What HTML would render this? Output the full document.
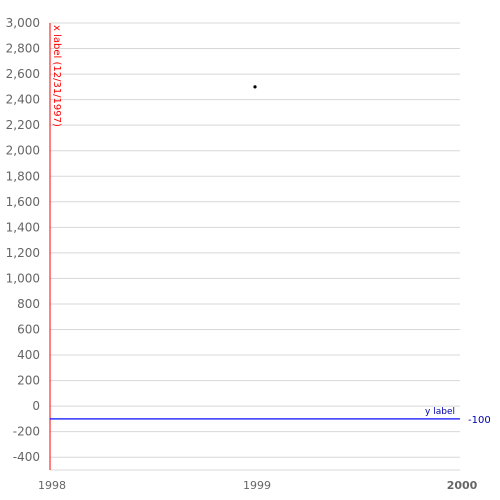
<!DOCTYPE html>
<html><head><meta charset="utf-8"><style>body{margin:0;background:#fff}svg{display:block;font-family:"DejaVu Sans","Liberation Sans",sans-serif}</style></head>
<body>
<svg id="c" width="500" height="500"></svg>
<script>
const yTicks=[-400,-200,0,200,400,600,800,1000,1200,1400,1600,1800,2000,2200,2400,2600,2800,3000];
const xTicks=[1998,1999,2000];
const pointX=[1999];
const pointY=[2500];
const xLineValue=[1998];
const yLineValue=[-100];
const L=50,R=460,T=23,B=470,yMin=-500,yMax=3000;
const sy=v=>B-(v-yMin)/(yMax-yMin)*(B-T);
const sx=v=>L+(v-1998)/(2000-1998)*(R-L);
const svg=document.getElementById('c');
const NS='http://www.w3.org/2000/svg';
function mk(t,a,txt){const e=document.createElementNS(NS,t);for(const k in a)e.setAttribute(k,a[k]);if(txt!==undefined)e.textContent=txt;svg.appendChild(e);return e;}
yTicks.forEach(v=>{
 const g=mk('line',{x1:L,x2:R,y1:sy(v),y2:sy(v),stroke:'#d8d8d8','stroke-width':1});
 
 
 const t=mk('text',{x:40,y:sy(v)+4,'text-anchor':'end','font-size':12,fill:'#666'},v.toLocaleString('en-US'));
 
 
});
const bl=mk('line',{x1:L,x2:R,y1:B,y2:B,stroke:'#d8d8d8'});


xTicks.forEach((v,i)=>{
 const t=mk('text',{x:sx(v)+2,y:489,'text-anchor':'middle','font-size':11,fill:'#666','font-weight':i==xTicks.length-1?'bold':'normal'},v);
 
 
});
xLineValue.forEach(v=>{
 const l=mk('line',{x1:sx(v),x2:sx(v),y1:T,y2:B,stroke:'#ff0000','stroke-width':1});
 
 
 const t=mk('text',{x:0,y:0,'font-size':10,fill:'#ff0000',transform:`translate(${sx(v)+4},${T+2}) rotate(90)`},'x label (12/31/1997)');
 
 
});
yLineValue.forEach(v=>{
 const l=mk('line',{x1:L,x2:R,y1:sy(v),y2:sy(v),stroke:'#0000ff','stroke-width':1.5,'stroke-opacity':0.8});
 
 
 const t=mk('text',{x:455,y:sy(v)-5,'text-anchor':'end','font-size':9,fill:'#0000aa'},'y label');
 
 
 const t2=mk('text',{x:468,y:sy(v)+4,'font-size':10,fill:'#0000aa'},String(v));
 
 
});
pointX.forEach((x,i)=>{
 const c=mk('circle',{cx:sx(x),cy:sy(pointY[i]),r:1.6,fill:'#000'});
 
 
});
</script>
</body></html>
